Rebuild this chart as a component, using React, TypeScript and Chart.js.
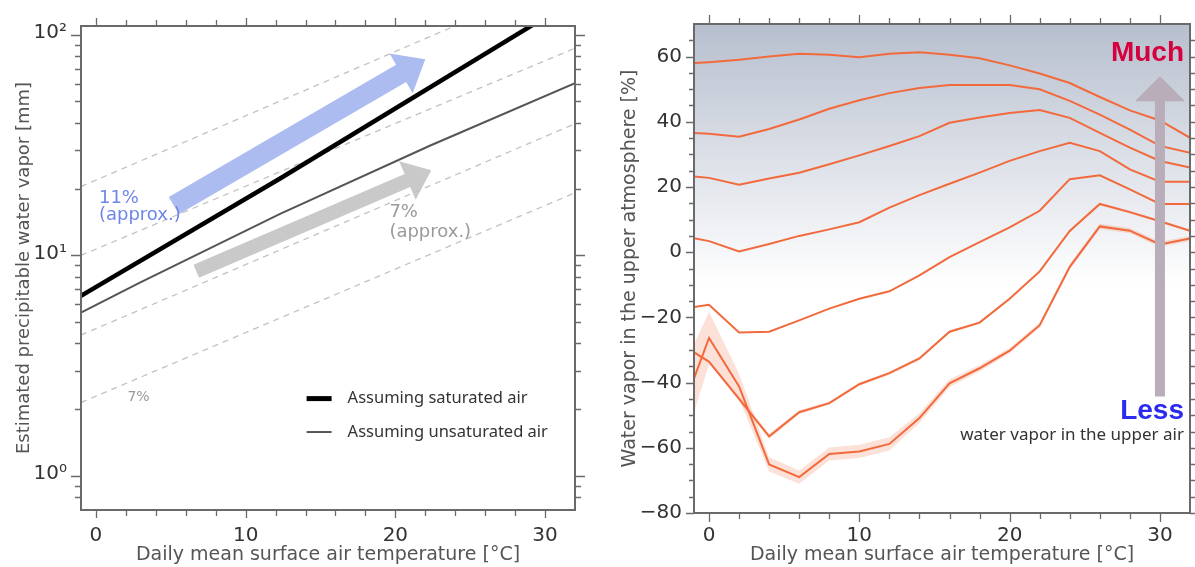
import React, { useEffect, useRef } from 'react';
import { Chart, registerables } from 'chart.js';
Chart.register(...registerables);

// ---------- shared ----------
const tempMin = -1;
const tempMax = 32;
const tempMajorTicks = [0, 10, 20, 30];
const tempMinorTicks = [2, 4, 6, 8, 12, 14, 16, 18, 22, 24, 26, 28];
const AXIS_COLOR = '#6a6a6a';
const TICK_FONT = { family: 'DejaVu Sans', size: 20 };
const TITLE_FONT = { family: 'DejaVu Sans', size: 19 };

// ---------- left panel data ----------
const satT = [-1, 12.3, 32];
const satV = [6.55, 22.3, 145];
const unsatT = [-1, 2.9, 12.3, 22.3, 32];
const unsatV = [5.5, 7.5, 15.4, 31.4, 60.4];
const refT = [-1, 32];
const ref1 = [20.5, 188];
const ref2 = [10, 87];
const ref3 = [4.35, 39.5];
const ref4 = [2.15, 19.2];
const pwMin = 0.711;
const pwMax = 109.6;
const pwMajorTicks = [1, 10, 100];
const pwMajorLabels = ['10⁰', '10¹', '10²'];
const pwMinorTicks = [0.8, 0.9, 2, 3, 4, 5, 6, 7, 8, 9, 20, 30, 40, 50, 60, 70, 80, 90];

// ---------- right panel data ----------
const rhT = [-1, 0, 2, 4, 6, 8, 10, 12, 14, 16, 18, 20, 22, 24, 26, 28, 30, 32];
const wv1 = [58.0, 58.3, 59.0, 60.0, 60.9, 60.6, 59.8, 60.9, 61.3, 60.6, 59.5, 57.3, 54.8, 51.9, 47.6, 43.5, 40.4, 35.1];
const wv2 = [36.6, 36.3, 35.4, 37.8, 40.7, 44.0, 46.6, 48.8, 50.4, 51.3, 51.3, 51.3, 50.0, 46.4, 42.2, 37.6, 32.6, 30.5];
const wv3 = [23.2, 22.8, 20.7, 22.6, 24.4, 27.0, 29.7, 32.6, 35.6, 39.7, 41.3, 42.7, 43.6, 41.2, 36.6, 32.1, 28.0, 26.0];
const wv4 = [4.3, 3.4, 0.2, 2.5, 5.0, 7.0, 9.2, 13.7, 17.5, 21.0, 24.4, 28.0, 31.0, 33.6, 31.0, 25.4, 21.6, 21.6];
const wv5 = [-16.8, -16.1, -24.6, -24.4, -20.9, -17.3, -14.3, -12.0, -7.1, -1.5, 3.1, 7.6, 12.7, 22.4, 23.6, 19.3, 14.8, 14.8];
const wv6 = [-30.7, -33.6, -45.0, -56.5, -49.1, -46.3, -40.5, -37.1, -32.6, -24.4, -21.6, -14.3, -5.9, 6.5, 14.8, 12.3, 9.5, 6.6];
const wv7 = [-38.7, -26.3, -41.2, -65.1, -69.0, -61.9, -61.1, -58.8, -50.9, -40.2, -35.6, -30.2, -22.4, -4.5, 7.9, 6.6, 2.4, 4.2];
const band7 = [10.5, 8, 3.8, 2.2, 2, 2, 2, 2, 1.5, 1.2, 1, 0.8, 0.8, 0.8, 0.8, 0.8, 0.8, 0.8];
const band6 = [0.5, 0.5, 0.8, 0.8, 0.6, 0.5, 0.5, 0.5, 0.5, 0.4, 0.4, 0.4, 0.4, 0.4, 0.4, 0.4, 0.4, 0.4];
const wvMin = -80;
const wvMax = 70;
const wvMajorTicks = [-80, -60, -40, -20, 0, 20, 40, 60];
const wvMinorTicks = [-75, -70, -65, -55, -50, -45, -35, -30, -25, -15, -10, -5, 5, 10, 15, 25, 30, 35, 45, 50, 55, 65];

const LINE_ORANGE = '#f26a3c';
const BAND_ORANGE = 'rgba(242,106,60,0.2)';

function pts(xs: number[], ys: number[]) {
  return xs.map((x, i) => ({ x, y: ys[i] }));
}

function setTicks(values: number[]) {
  const sorted = [...values].sort((a, b) => a - b);
  return (scale: any) => {
    scale.ticks = sorted.map((v) => ({ value: v }));
  };
}

function drawFrameAndTicks(chart: any, t: any) {
  const { ctx, chartArea: a } = chart;
  const xs = chart.scales.x;
  const ys = chart.scales.y;
  ctx.save();
  ctx.strokeStyle = AXIS_COLOR;
  ctx.lineWidth = 1.3;
  ctx.beginPath();
  const xt: [number, number][] = [
    ...t.xMajor.map((v: number) => [v, t.xMajLen]),
    ...t.xMinor.map((v: number) => [v, t.xMinLen]),
  ];
  for (const [v, len] of xt) {
    const p = Math.round(xs.getPixelForValue(v)) + 0.5;
    ctx.moveTo(p, a.bottom);
    ctx.lineTo(p, a.bottom + len);
    ctx.moveTo(p, a.top);
    ctx.lineTo(p, a.top - len);
  }
  const yt: [number, number][] = [
    ...t.yMajor.map((v: number) => [v, t.yMajLen]),
    ...t.yMinor.map((v: number) => [v, t.yMinLen]),
  ];
  for (const [v, len] of yt) {
    const p = Math.round(ys.getPixelForValue(v)) + 0.5;
    ctx.moveTo(a.left, p);
    ctx.lineTo(a.left - len, p);
    ctx.moveTo(a.right, p);
    ctx.lineTo(a.right + Math.min(len, t.rightMax), p);
  }
  ctx.stroke();
  ctx.lineWidth = 2;
  ctx.strokeRect(a.left, a.top, a.right - a.left, a.bottom - a.top);
  ctx.restore();
}

function drawArrow(ctx: CanvasRenderingContext2D, x0: number, y0: number, x1: number, y1: number,
  shaftW: number, headW: number, headL: number, color: string) {
  const dx = x1 - x0, dy = y1 - y0;
  const len = Math.hypot(dx, dy);
  const ux = dx / len, uy = dy / len;
  const nx = -uy, ny = ux;
  const bx = x1 - ux * headL, by = y1 - uy * headL;
  ctx.save();
  ctx.fillStyle = color;
  ctx.beginPath();
  ctx.moveTo(x0 + nx * shaftW / 2, y0 + ny * shaftW / 2);
  ctx.lineTo(bx + nx * shaftW / 2, by + ny * shaftW / 2);
  ctx.lineTo(bx + nx * headW / 2, by + ny * headW / 2);
  ctx.lineTo(x1, y1);
  ctx.lineTo(bx - nx * headW / 2, by - ny * headW / 2);
  ctx.lineTo(bx - nx * shaftW / 2, by - ny * shaftW / 2);
  ctx.lineTo(x0 - nx * shaftW / 2, y0 - ny * shaftW / 2);
  ctx.closePath();
  ctx.fill();
  ctx.restore();
}

function P(chart: any, x: number, y: number) {
  return [chart.scales.x.getPixelForValue(x), chart.scales.y.getPixelForValue(y)];
}

function tempTickCb(v: any) {
  const n = Number(v);
  return tempMajorTicks.includes(n) ? String(n) : '';
}

// ---------- left chart config ----------
function leftConfig(): any {
  const refStyle = { borderColor: '#c2c2c2', borderWidth: 1.3, borderDash: [6, 5], pointRadius: 0, fill: false, order: 5 };
  const decor = {
    id: 'leftDecor',
    beforeDatasetsDraw(chart: any) {
      const { ctx } = chart;
      const [bx0, by0] = P(chart, 5.2, 16.8);
      const [bx1, by1] = P(chart, 22.0, 77.4);
      drawArrow(ctx, bx0, by0, bx1, by1, 20, 46, 28, '#adbcf0');
      const [gx0, gy0] = P(chart, 6.7, 8.47);
      const [gx1, gy1] = P(chart, 22.4, 24.3);
      drawArrow(ctx, gx0, gy0, gx1, gy1, 14, 42, 26, '#c9c9c9');
    },
    afterDatasetsDraw(chart: any) {
      const { ctx } = chart;
      ctx.save();
      ctx.textAlign = 'left';
      ctx.textBaseline = 'alphabetic';
      ctx.font = '18px "DejaVu Sans"';
      ctx.fillStyle = '#6d86e8';
      let [x, y] = P(chart, 0.2, 17.2);
      ctx.fillText('11%', x, y);
      [x, y] = P(chart, 0.2, 14.4);
      ctx.fillText('(approx.)', x, y);
      ctx.fillStyle = '#9a9a9a';
      [x, y] = P(chart, 19.6, 14.9);
      ctx.fillText('7%', x, y);
      [x, y] = P(chart, 19.6, 12.1);
      ctx.fillText('(approx.)', x, y);
      ctx.font = '14px "DejaVu Sans"';
      [x, y] = P(chart, 2.1, 2.19);
      ctx.fillText('7%', x, y);
      // legend
      const rows = [
        { v: 2.24, w: 5, c: '#000000', t: 'Assuming saturated air' },
        { v: 1.58, w: 2, c: '#555555', t: 'Assuming unsaturated air' },
      ];
      ctx.font = '16.5px "Noto Sans"';
      ctx.textBaseline = 'middle';
      for (const r of rows) {
        const [lx, ly] = P(chart, 14.07, r.v);
        ctx.strokeStyle = r.c;
        ctx.lineWidth = r.w;
        ctx.beginPath();
        ctx.moveTo(lx, ly);
        ctx.lineTo(lx + 25, ly);
        ctx.stroke();
        ctx.fillStyle = '#333';
        ctx.fillText(r.t, lx + 41, ly);
      }
      ctx.restore();
    },
    afterDraw(chart: any) {
      drawFrameAndTicks(chart, {
        xMajor: tempMajorTicks, xMinor: tempMinorTicks, xMajLen: 8, xMinLen: 6,
        yMajor: pwMajorTicks, yMinor: pwMinorTicks, yMajLen: 10, yMinLen: 6, rightMax: 10,
      });
    },
  };
  return {
    type: 'line',
    data: {
      datasets: [
        { data: pts(satT, satV), borderColor: '#000000', borderWidth: 4.5, pointRadius: 0, fill: false, order: 0 },
        { data: pts(unsatT, unsatV), borderColor: '#555555', borderWidth: 2, pointRadius: 0, fill: false, order: 1 },
        { ...refStyle, data: pts(refT, ref1) },
        { ...refStyle, data: pts(refT, ref2) },
        { ...refStyle, data: pts(refT, ref3) },
        { ...refStyle, data: pts(refT, ref4) },
      ],
    },
    options: {
      responsive: false,
      animation: false,
      devicePixelRatio: 1,
      layout: { padding: { top: 18, right: 25, left: 0, bottom: 0 } },
      plugins: { legend: { display: false }, tooltip: { enabled: false } },
      scales: {
        x: {
          type: 'linear', min: tempMin, max: tempMax,
          grid: { display: false, drawTicks: false },
          border: { display: false },
          afterBuildTicks: setTicks([...tempMajorTicks, ...tempMinorTicks]),
          ticks: { autoSkip: false, maxRotation: 0, padding: 14, font: TICK_FONT, color: '#333', callback: tempTickCb },
          title: { display: true, text: 'Daily mean surface air temperature [°C]', font: TITLE_FONT, color: '#555', padding: { top: 0, bottom: 1 } },
          afterFit: (s: any) => { s.height = 57; },
        },
        y: {
          type: 'logarithmic', min: pwMin, max: pwMax,
          grid: { display: false, drawTicks: false },
          border: { display: false },
          afterBuildTicks: setTicks([...pwMajorTicks, ...pwMinorTicks]),
          ticks: {
            autoSkip: false, padding: 14, font: TICK_FONT, color: '#333', labelOffset: -2,
            callback: (v: any) => {
              const n = Number(v);
              const i = pwMajorTicks.findIndex((m) => Math.abs(m - n) < 1e-6 * m);
              return i >= 0 ? pwMajorLabels[i] : '';
            },
          },
          title: { display: true, text: 'Estimated precipitable water vapor [mm]', font: { family: 'DejaVu Sans', size: 18 }, color: '#555', padding: { top: 14, bottom: 0 } },
          afterFit: (s: any) => { s.width = 81; },
        },
      },
    },
    plugins: [decor],
  };
}

// ---------- right chart config ----------
function rightConfig(): any {
  const lines = [wv1, wv2, wv3, wv4, wv5, wv6, wv7];
  const bandSets: any[] = [];
  const addBand = (center: number[], half: number[]) => {
    const upperIndex = bandSets.length;
    bandSets.push({
      data: pts(rhT, center.map((v, i) => v + half[i])),
      borderWidth: 0, borderColor: 'rgba(0,0,0,0)', pointRadius: 0, fill: false, order: 10,
    });
    bandSets.push({
      data: pts(rhT, center.map((v, i) => v - half[i])),
      borderWidth: 0, borderColor: 'rgba(0,0,0,0)', pointRadius: 0,
      fill: { target: upperIndex }, backgroundColor: BAND_ORANGE, order: 10,
    });
  };
  addBand(wv7, band7);
  addBand(wv6, band6);
  const lineSets = lines.map((l) => ({
    data: pts(rhT, l), borderColor: LINE_ORANGE, borderWidth: 2, pointRadius: 0, fill: false, order: 0,
  }));

  const decor = {
    id: 'rightDecor',
    beforeDatasetsDraw(chart: any) {
      const { ctx, chartArea: a } = chart;
      const yEnd = chart.scales.y.getPixelForValue(-10);
      const g = ctx.createLinearGradient(0, a.top, 0, yEnd);
      g.addColorStop(0, '#b7bfce');
      g.addColorStop(1, '#ffffff');
      ctx.save();
      ctx.fillStyle = g;
      ctx.fillRect(a.left, a.top, a.right - a.left, a.bottom - a.top);
      ctx.restore();
    },
    afterDatasetsDraw(chart: any) {
      const { ctx } = chart;
      const [ax, ay0] = P(chart, 30, -44.3);
      const [, ay1] = P(chart, 30, 54);
      drawArrow(ctx, ax, ay0, ax, ay1, 10, 50, 25, '#b8adb8');
      ctx.save();
      ctx.textAlign = 'right';
      ctx.textBaseline = 'alphabetic';
      ctx.font = 'bold 28px "Liberation Sans"';
      ctx.fillStyle = '#d6003f';
      let [x, y] = P(chart, 31.6, 58.8);
      ctx.fillText('Much', x, y);
      ctx.fillStyle = '#2b2bf2';
      [x, y] = P(chart, 31.6, -51.3);
      ctx.fillText('Less', x, y);
      ctx.font = '17px "Noto Sans"';
      ctx.fillStyle = '#333';
      [x, y] = P(chart, 31.6, -57.7);
      ctx.fillText('water vapor in the upper air', x, y);
      ctx.restore();
    },
    afterDraw(chart: any) {
      drawFrameAndTicks(chart, {
        xMajor: tempMajorTicks, xMinor: tempMinorTicks, xMajLen: 9, xMinLen: 6,
        yMajor: wvMajorTicks, yMinor: wvMinorTicks, yMajLen: 8, yMinLen: 5, rightMax: 5,
      });
    },
  };
  return {
    type: 'line',
    data: { datasets: [...bandSets, ...lineSets] },
    options: {
      responsive: false,
      animation: false,
      devicePixelRatio: 1,
      layout: { padding: { top: 22, right: 5, left: 0, bottom: 0 } },
      plugins: { legend: { display: false }, tooltip: { enabled: false } },
      scales: {
        x: {
          type: 'linear', min: tempMin, max: tempMax,
          grid: { display: false, drawTicks: false },
          border: { display: false },
          afterBuildTicks: setTicks([...tempMajorTicks, ...tempMinorTicks]),
          ticks: { autoSkip: false, maxRotation: 0, padding: 11, font: TICK_FONT, color: '#333', callback: tempTickCb },
          title: { display: true, text: 'Daily mean surface air temperature [°C]', font: TITLE_FONT, color: '#555', padding: { top: 0, bottom: 1 } },
          afterFit: (s: any) => { s.height = 54; },
        },
        y: {
          type: 'linear', min: wvMin, max: wvMax,
          grid: { display: false, drawTicks: false },
          border: { display: false },
          afterBuildTicks: setTicks([...wvMajorTicks, ...wvMinorTicks]),
          ticks: {
            autoSkip: false, padding: 12, font: TICK_FONT, color: '#333',
            callback: (v: any) => {
              const n = Number(v);
              if (!wvMajorTicks.includes(n)) return '';
              return n < 0 ? '\u2212' + Math.abs(n) : String(n);
            },
          },
          title: { display: true, text: 'Water vapor in the upper atmosphere [%]', font: TITLE_FONT, color: '#555', padding: { top: 19, bottom: 0 } },
          afterFit: (s: any) => { s.width = 94; },
        },
      },
    },
    plugins: [decor],
  };
}

function ChartCanvas({ make, left, width }: { make: () => any; left: number; width: number }) {
  const ref = useRef<HTMLCanvasElement | null>(null);
  useEffect(() => {
    if (!ref.current) return;
    const c = new Chart(ref.current, make());
    return () => c.destroy();
  }, []);
  return (
    <canvas
      ref={ref}
      width={width}
      height={567}
      style={{ position: 'absolute', left, top: 0, width, height: 567 }}
    />
  );
}

export default function App() {
  return (
    <div style={{ position: 'absolute', left: 0, top: 0, width: 1195, height: 567, background: '#fff', overflow: 'hidden' }}>
      <ChartCanvas make={leftConfig} left={0} width={600} />
      <ChartCanvas make={rightConfig} left={600} width={595} />
    </div>
  );
}
